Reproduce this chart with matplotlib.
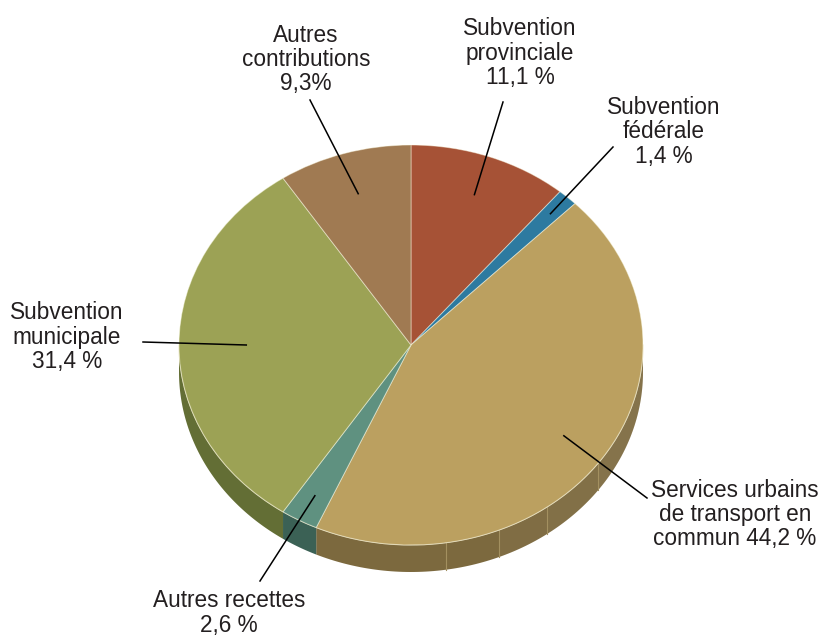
import numpy as np
import matplotlib
matplotlib.use("Agg")
import matplotlib.pyplot as plt

plt.rcParams['font.family'] = ['Liberation Sans', 'DejaVu Sans']

# Revenue shares (percent), clockwise from 12 o'clock
categories = [
    "Subvention\nprovinciale\n11,1 %",
    "Subvention\nfédérale\n1,4 %",
    "Services urbains\nde transport en\ncommun 44,2 %",
    "Autres recettes\n2,6 %",
    "Subvention\nmunicipale\n31,4 %",
    "Autres\ncontributions\n9,3%",
]
values = [11.1, 1.4, 44.2, 2.6, 31.4, 9.3]

top_colors = ["#a65236", "#2d7aa0", "#bba060", "#5f9180", "#9ca255", "#a07a52"]
side_colors = ["#6e3624", "#1e526b", "#7c693e", "#3b6155", "#636e35", "#6b5237"]

# Layout in pixels: pie centre, radii, extrusion depth
W, H = 819, 638
CX, CY, RX, RY = 411, 345, 232, 200
DEPTH = 27 / RY


def to_data(px, py):
    return (px - CX) / RX, (CY - py) / RY


fig = plt.figure(figsize=(W / 100, H / 100), dpi=100)
ax = fig.add_axes([0, 0, 1, 1])

wedges, _ = ax.pie(values, colors=top_colors, startangle=90, counterclock=False,
                   radius=1, center=(0, 0),
                   wedgeprops=dict(edgecolor=(1, 1, 0.92, 0.45), linewidth=0.7))
for w in wedges:
    w.set_zorder(3)

ax.set_aspect('auto')
x0, y0 = to_data(0, H)
x1, y1 = to_data(W, 0)
ax.set_xlim(x0, x1)
ax.set_ylim(y0, y1)
ax.axis('off')

# Side wall of the extruded pie (front half only), angles clockwise from top
bounds = np.concatenate([[0], np.cumsum(values)]) / sum(values) * 360.0
for i in range(len(values)):
    a = max(bounds[i], 90.0)
    b = min(bounds[i + 1], 270.0)
    if b <= a:
        continue
    phi = np.radians(np.linspace(a, b, 120))
    xs = np.sin(phi)
    ys = np.cos(phi)
    px = np.concatenate([xs, xs[::-1]])
    py = np.concatenate([ys, ys[::-1] - DEPTH])
    ax.fill(px, py, color=side_colors[i], lw=0, zorder=1)

# Soft shading on the wall: lighter toward the right
for phi_a, phi_b, alpha in [(90, 126.3, 0.07), (126.3, 144.1, 0.05), (144.1, 157.7, 0.03)]:
    phi = np.radians(np.linspace(phi_a, phi_b, 60))
    xs, ys = np.sin(phi), np.cos(phi)
    ax.fill(np.concatenate([xs, xs[::-1]]), np.concatenate([ys, ys[::-1] - DEPTH]),
            color="white", alpha=alpha, lw=0, zorder=1.2)

# Facet seams on the wall
for deg in [126.3, 144.1, 157.7, 171.3]:
    t = np.radians(deg)
    ax.plot([np.sin(t)] * 2, [np.cos(t), np.cos(t) - DEPTH], color="#a39060",
            lw=0.8, zorder=1.5)

# Rim highlight where the top meets the wall
phi = np.radians(np.linspace(90, 270, 300))
ax.plot(np.sin(phi), np.cos(phi), color="#e6dcb8", lw=0.8, alpha=0.8, zorder=2)

# Labels with leader lines
label_first_baseline = [35, 114, 497, 607, 319, 41.5]
label_center_x = [520, 664, 735, 229, 67, 306]
line_step = [24.6, 24.4, 24.2, 25.0, 24.6, 24.4]
leader_outer = [(503, 102), (613, 147), (647, 498), (260, 581), (143, 342), (310, 100)]
leader_inner_r = [0.80, 0.89, 0.80, 0.86, 0.71, 0.79]

mids = (bounds[:-1] + bounds[1:]) / 2
text_color = "#231f20"
for i, label in enumerate(categories):
    for k, line in enumerate(label.split("\n")):
        tx, ty = to_data(label_center_x[i], label_first_baseline[i] + k * line_step[i])
        ax.text(tx, ty, line, ha="center", va="baseline", fontsize=16.3,
                color=text_color, zorder=5)
    t = np.radians(mids[i])
    ix, iy = leader_inner_r[i] * np.sin(t), leader_inner_r[i] * np.cos(t)
    ox, oy = to_data(*leader_outer[i])
    ax.plot([ox, ix], [oy, iy], color="black", lw=1.1, zorder=4)

fig.savefig("out.png", dpi=100)
